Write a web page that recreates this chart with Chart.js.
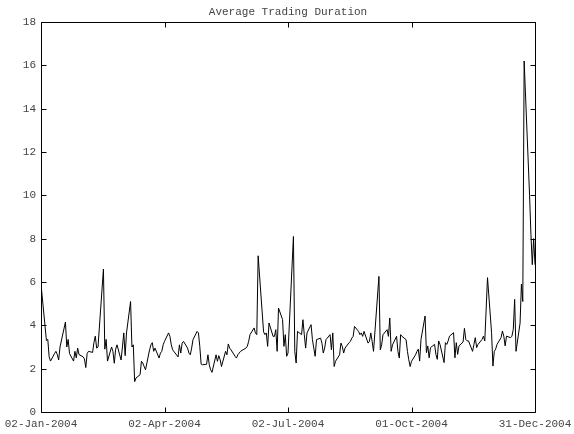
<!DOCTYPE html>
<html>
<head>
<meta charset="utf-8">
<title>Average Trading Duration</title>
<script src="https://cdn.jsdelivr.net/npm/chart.js@4.4.0/dist/chart.umd.min.js"></script>
<style>
  html, body { margin: 0; padding: 0; background: #fff; }
</style>
</head>
<body>
<canvas id="durChart" width="574" height="434"></canvas>
<script>
// trading calendar for 2004 (NYSE closed days besides weekends)
const startDate = '2004-01-02'
const endDate = '2004-12-31'
const holidays = ['2004-01-19', '2004-02-16', '2004-04-09', '2004-05-31', '2004-06-11',
                  '2004-07-05', '2004-09-06', '2004-11-25', '2004-12-24']

const chartTitle = 'Average Trading Duration'
const tickDays = [0, 91, 182, 273, 364]
const tickLabels = ['02-Jan-2004', '02-Apr-2004', '02-Jul-2004', '01-Oct-2004', '31-Dec-2004']
const yTicks = [0, 2, 4, 6, 8, 10, 12, 14, 16, 18]

// average duration per trading day
const durations = [
    5.9, 3.95, 3.3, 3.35, 2.55, 2.35, 2.7, 2.8, 2.65, 2.4, 3.0, 4.15,
    3.0, 3.35, 2.7, 2.35, 2.8, 2.5, 2.95, 2.65, 2.55, 2.45, 2.05, 2.7, 2.8, 2.75, 3.2, 3.5, 2.95, 3.0,
    6.6,
    2.9, 3.35, 2.35, 3.0, 2.8, 2.25, 2.9, 3.1, 2.4, 3.0, 3.65, 2.6, 3.65,
    5.1, 3.0, 3.1, 1.4,
    1.57, 1.72, 2.34, 2.26, 2.1, 1.95, 2.87, 3.1, 3.2, 2.8, 2.95, 2.49, 2.72, 2.8, 3.1, 3.26, 3.65, 3.49,
    3.1, 2.87, 2.54, 3.1, 2.72, 3.18, 3.26, 2.95, 2.72, 2.64, 2.95, 3.34, 3.72, 3.65, 3.03, 2.21, 2.18,
    2.2, 2.64, 2.18, 1.95, 1.83, 2.64, 2.34, 2.6, 2.41, 2.1, 2.8, 2.64, 3.14, 2.95, 2.87, 2.57, 2.49, 2.64,
    2.72, 2.8, 2.95, 3.03, 3.26, 3.57, 3.88, 3.65, 3.57,
    7.21,
    3.7, 3.57, 3.65, 3.03, 4.11, 3.49, 3.49, 3.8, 2.8, 4.8, 4.26, 3.03, 3.57, 2.57, 2.72,
    8.1,
    2.8, 2.26, 3.72, 3.57, 4.26, 3.57, 2.95, 3.65, 4.03, 3.34, 2.95, 2.57, 3.34, 3.41, 3.18, 2.72, 2.95,
    3.34, 3.57, 2.87, 3.65,
    2.1,
    2.34, 2.64, 3.18, 3.03, 2.72, 2.95, 3.2, 3.26, 3.41, 3.49, 3.95, 3.72, 3.57, 3.65, 3.49, 3.72, 3.18,
    3.26, 3.65, 3.26, 2.8,
    6.26,
    2.87, 3.1, 3.57, 3.8, 3.49, 4.34, 2.8, 3.1, 3.49, 2.8, 2.49, 3.57, 3.49, 3.34, 2.8, 2.41, 2.1, 2.34, 2.64,
    2.8, 2.9, 2.35, 3.35,
    4.43,
    2.74, 3.05, 2.5, 2.97, 3.12, 2.66, 2.43, 3.28, 3.12, 2.28, 3.2, 3.12, 3.28, 3.5, 3.66, 2.5, 3.2, 2.66,
    3.05, 3.23,
    3.86,
    3.35, 3.28, 3.28, 2.8, 3.12, 3.43, 2.97, 3.12, 3.35, 3.5, 3.28,
    6.2,
    3.66, 2.12, 2.8, 2.9, 3.12, 3.43, 3.74, 3.5, 3.05, 3.5, 3.43, 3.5, 3.82,
    5.2, 2.8, 4.1, 5.9, 5.1, 16.2,
    10.0, 8.2, 6.8, 8.0, 6.8
]

function tradingDays(from, to, closed) {
    let days = []
    let t0 = Date.parse(from + 'T00:00:00Z')
    let t1 = Date.parse(to + 'T00:00:00Z')
    for (let t = t0; t <= t1; t += 86400000) {
        let d = new Date(t)
        let wd = d.getUTCDay()
        if (wd === 0 || wd === 6) continue
        if (closed.includes(d.toISOString().slice(0, 10))) continue
        days.push(Math.round((t - t0) / 86400000))
    }
    return days
}

const days = tradingDays(startDate, endDate, holidays)
const points = durations.map((v, i) => ({x: days[i], y: v}))

const monoFamily = "'Liberation Mono', 'Courier New', monospace"
const monoFont = {family: monoFamily, size: 11}

// matlab style box with inward ticks on all four sides, title centred over the axes
const boxPlugin = {
    id: 'box',
    afterDraw(chart) {
        const {ctx, chartArea: a} = chart
        const x = chart.scales.x, y = chart.scales.y
        const L = Math.round(a.left) + 0.5, R = Math.round(a.right) + 0.5
        const T = Math.round(a.top) + 0.5, B = Math.round(a.bottom) + 0.5
        const len = 5
        ctx.save()
        ctx.strokeStyle = '#000'
        ctx.lineWidth = 1
        ctx.beginPath()
        ctx.rect(L, T, R - L, B - T)
        tickDays.forEach(d => {
            let px = Math.round(x.getPixelForValue(d)) + 0.5
            ctx.moveTo(px, B); ctx.lineTo(px, B - len)
            ctx.moveTo(px, T); ctx.lineTo(px, T + len)
        })
        yTicks.forEach(v => {
            let py = Math.round(y.getPixelForValue(v)) + 0.5
            ctx.moveTo(L, py); ctx.lineTo(L + len, py)
            ctx.moveTo(R, py); ctx.lineTo(R - len, py)
        })
        ctx.stroke()

        ctx.fillStyle = '#444'
        ctx.font = '11px ' + monoFamily
        ctx.textAlign = 'center'
        ctx.textBaseline = 'middle'
        ctx.fillText(chartTitle, (a.left + a.right) / 2, 12)
        ctx.restore()
    }
}

const config = {
    type: 'line',
    data: {
        datasets: [{
            data: points,
            borderColor: '#000',
            borderWidth: 1,
            pointRadius: 0,
            tension: 0,
            fill: false
        }]
    },
    options: {
        responsive: false,
        animation: false,
        devicePixelRatio: 1,
        layout: {padding: {left: 0, right: 39, top: 22, bottom: 0}},
        plugins: {
            legend: {display: false},
            tooltip: {enabled: false},
            title: {display: false}
        },
        scales: {
            x: {
                type: 'linear',
                min: 0,
                max: 364,
                grid: {display: false, drawTicks: false},
                border: {display: false},
                afterBuildTicks: scale => { scale.ticks = tickDays.map(v => ({value: v})) },
                afterFit: scale => {
                    scale.height = 22
                    // end labels may hang past the axes
                    scale.paddingLeft = 0
                    scale.paddingRight = 0
                },
                ticks: {
                    autoSkip: false,
                    maxRotation: 0,
                    padding: 5,
                    color: '#444',
                    font: monoFont,
                    callback: value => tickLabels[tickDays.indexOf(value)]
                }
            },
            y: {
                min: 0,
                max: 18,
                grid: {display: false, drawTicks: false},
                border: {display: false},
                afterFit: scale => {
                    scale.width = 41
                    scale.paddingTop = 0
                    scale.paddingBottom = 0
                },
                ticks: {
                    stepSize: 2,
                    padding: 5,
                    color: '#444',
                    font: monoFont
                }
            }
        }
    },
    plugins: [boxPlugin]
}

let c = document.getElementById('durChart').getContext('2d')
new Chart(c, config)
</script>
</body>
</html>
